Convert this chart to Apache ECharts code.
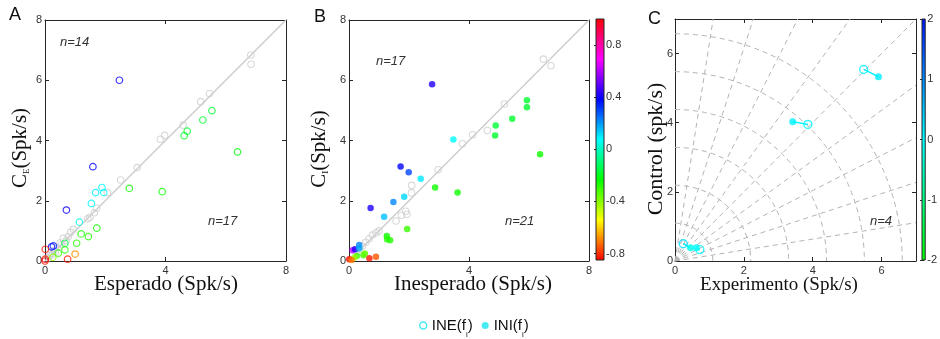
<!DOCTYPE html>
<html><head><meta charset="utf-8">
<script src="https://cdn.jsdelivr.net/npm/echarts@6/dist/echarts.min.js"></script>
<style>html,body{margin:0;padding:0;background:#fff}#c{width:940px;height:339px}</style>
</head><body><div id="c"></div>
<script>
// ---------- data ----------
const aGrayX = [6.83,6.84,5.46,5.17,4.59,3.97,3.83,3.06,2.51,2.07,1.71,1.64,1.49,1.42,0.94,0.85,0.77,0.61,0.70,0.55,0.50,0.40,0.30,0.20,0.15,0.10,0.35,0.25];
const aGrayY = [6.84,6.53,5.56,5.29,4.51,4.17,4.04,3.10,2.69,2.27,1.75,1.60,1.45,1.40,1.05,0.95,0.81,0.75,0.68,0.55,0.60,0.45,0.35,0.25,0.18,0.10,0.30,0.22];
const aColX = [2.47,1.59,0.71,0.22,0.28,1.89,1.68,1.95,1.54,1.14,4.62,4.72,5.24,5.54,6.39,2.80,3.89,1.72,1.20,1.44,1.05,0.66,0.66,0.44,0.26,1.00,0.75,0.01,0.01,0.00];
const aColY = [6.00,3.13,1.69,0.47,0.50,2.44,2.27,2.27,1.91,1.29,4.16,4.31,4.68,4.99,3.62,2.41,2.30,1.09,0.90,0.81,0.59,0.59,0.37,0.26,0.12,0.23,0.06,0.39,0.06,0.00];
const aColC = [0.40,0.38,0.40,0.38,0.35,0.08,0.10,0.08,0.08,0.05,-0.18,-0.18,-0.18,-0.17,-0.22,-0.25,-0.25,-0.26,-0.27,-0.27,-0.28,-0.15,-0.28,-0.30,-0.40,-0.68,-0.82,-0.82,-0.84,-0.84];

const bGrayX = [6.48,6.73,5.18,4.61,4.12,3.78,2.97,2.09,2.08,1.89,1.93,1.75,1.57,1.00,0.90,0.78,0.67,0.56,0.45,0.35,0.25];
const bGrayY = [6.70,6.48,5.21,4.33,4.19,3.89,3.03,2.51,2.26,1.65,1.55,1.52,1.33,1.00,0.94,0.86,0.74,0.62,0.50,0.40,0.30];
const bColX = [2.77,1.72,1.99,0.72,3.48,2.39,1.84,1.48,1.17,5.93,5.93,5.44,4.89,4.87,6.37,2.87,3.62,1.94,1.26,1.37,1.27,0.12,0.20,0.34,0.34,0.26,0.48,0.53,0.18,0.68,0.90,0.01,0.09];
const bColY = [5.87,3.14,2.95,1.76,4.03,2.73,2.13,1.96,1.47,5.34,5.10,4.72,4.50,4.17,3.54,2.44,2.27,1.06,0.83,0.69,0.72,0.36,0.39,0.53,0.42,0.17,0.19,0.25,0.12,0.09,0.14,0.06,0.03];
const bColC = [0.42,0.38,0.30,0.42,0.08,0.10,0.12,0.22,0.15,-0.18,-0.18,-0.18,-0.17,-0.18,-0.25,-0.25,-0.25,-0.30,-0.25,-0.27,-0.27,0.62,0.42,0.22,0.18,-0.30,-0.32,-0.35,-0.42,-0.82,-0.75,-0.84,-0.70];

const cIneX = [5.48,3.86,0.24,0.72];
const cIneY = [5.54,3.95,0.50,0.33];
const cIneC = [0.10,0.05,0.30,0.05];
const cIniX = [5.91,3.42,0.45,0.62];
const cIniY = [5.33,4.03,0.38,0.38];
const cIniC = [0.15,0.10,-0.10,-0.05];

const diag = [0, 8];
const cbBRange = [-0.85, 1.0];
const cbBTicks = [-0.8, -0.4, 0, 0.4, 0.8];
const cbCRange = [-2, 2];
const polarRadii = [1.1, 2.2, 3.3, 4.4, 5.5, 6.6];
const polarAngles = [9, 18, 27, 36, 45, 54, 63, 72, 81];

// ---------- colours ----------
function hsvRgb(h) {
  h = ((h % 360) + 360) % 360;
  const i = Math.floor(h / 60), f = h / 60 - i, q = 1 - f;
  const m = [[1,f,0],[q,1,0],[0,1,f],[0,q,1],[f,0,1],[1,0,q]][i];
  return 'rgb(' + m.map(v => Math.round(v * 255)).join(',') + ')';
}
function colB(v) { return hsvRgb((v - cbBRange[0]) / (cbBRange[1] - cbBRange[0]) * 360); }
function colC(v) {
  const t = (v - cbCRange[0]) / (cbCRange[1] - cbCRange[0]);
  let g, b;
  if (t < 0.5) { g = 255; b = 255 * t * 2; } else { g = 255 * (1 - (t - 0.5) * 1.85); b = 255; }
  return 'rgb(0,' + Math.round(g) + ',' + Math.round(b) + ')';
}

// ---------- helpers ----------
const AX = '#262626';
const labelStyle = { fontSize: 11, color: '#333', fontFamily: 'Liberation Sans' };
function mainAxis(grid, pos, min, max, interval, showLabel, extra) {
  const isY = pos === 'left' || pos === 'right';
  return Object.assign({
    type: 'value', gridIndex: grid, position: pos, min: min, max: max, interval: interval,
    axisLine: { show: true, onZero: false, lineStyle: { color: AX, width: 1 } },
    axisTick: { show: true, inside: true, length: 4, lineStyle: { color: AX } },
    axisLabel: Object.assign({ show: showLabel, margin: isY ? 3 : 4 }, labelStyle),
    splitLine: { show: false }
  }, extra || {});
}
const serifTxt = { fontFamily: 'Liberation Serif', fontSize: 21, fill: '#111', align: 'center', verticalAlign: 'middle' };
const richName = {
  a: { fontFamily: 'Liberation Serif', fontSize: 21, fill: '#111' },
  s: { fontFamily: 'Liberation Serif', fontSize: 9, fill: '#111', padding: [14, 0, 0, 0] }
};
function pts(xs, ys) { return xs.map((x, i) => [x, ys[i]]); }

const chart = echarts.init(document.getElementById('c'), null, { renderer: 'canvas' });

function gradRect(grid, xi, yi, range, colorFn) {
  const stops = [];
  for (let k = 0; k <= 48; k++) {
    const o = k / 48;
    stops.push({ offset: o, color: colorFn(range[1] - o * (range[1] - range[0])) });
  }
  return {
    type: 'custom', xAxisIndex: xi, yAxisIndex: yi, silent: true,
    data: [[0, range[0], 1, range[1]]],
    encode: { x: [0, 2], y: [1, 3] },
    renderItem: function (params, api) {
      const p1 = api.coord([api.value(0), api.value(1)]);
      const p2 = api.coord([api.value(2), api.value(3)]);
      return {
        type: 'rect', z2: 1,
        shape: { x: p1[0], y: p2[1], width: p2[0] - p1[0], height: p1[1] - p2[1] },
        style: { fill: { type: 'linear', x: 0, y: 0, x2: 0, y2: 1, colorStops: stops }, stroke: AX, lineWidth: 1 }
      };
    }
  };
}

const noMaxX = Object.assign({ show: true, margin: 4, showMaxLabel: false }, labelStyle);
const noMaxY = Object.assign({ show: true, margin: 2, showMaxLabel: false }, labelStyle);

function title(text, x, y, extra) {
  return { type: 'text', x: x, y: y, z: 10, style: Object.assign({ text: text }, serifTxt, extra || {}) };
}
function yTitle(text, x, y, extra) {
  return { type: 'text', x: x, y: y, rotation: Math.PI / 2, z: 10,
    style: Object.assign({ text: text, rich: richName }, serifTxt, extra || {}) };
}

const option = {
  animation: false,
  backgroundColor: '#fff',
  grid: [
    { left: 45, top: 20, width: 241, height: 241 },
    { left: 349, top: 20, width: 240, height: 241 },
    { left: 596, top: 19, width: 8, height: 241 },
    { left: 675, top: 19, width: 241, height: 242 },
    { left: 922, top: 19, width: 8, height: 241 }
  ],
  xAxis: [
    mainAxis(0, 'bottom', 0, 8, 4, true),
    mainAxis(0, 'top', 0, 8, 4, false),
    mainAxis(1, 'bottom', 0, 8, 4, true),
    mainAxis(1, 'top', 0, 8, 4, false),
    { type: 'value', gridIndex: 2, min: 0, max: 1, show: false },
    mainAxis(3, 'bottom', 0, 7, 2, true, { axisLabel: noMaxX }),
    mainAxis(3, 'top', 0, 7, 2, false),
    { type: 'value', gridIndex: 4, min: 0, max: 1, show: false }
  ],
  yAxis: [
    mainAxis(0, 'left', 0, 8, 2, true),
    mainAxis(0, 'right', 0, 8, 2, false),
    mainAxis(1, 'left', 0, 8, 2, true),
    mainAxis(1, 'right', 0, 8, 2, false),
    { type: 'value', gridIndex: 2, position: 'right', min: cbBRange[0], max: cbBRange[1],
      axisLine: { show: false },
      axisTick: { show: true, inside: true, length: 2, customValues: cbBTicks, lineStyle: { color: AX } },
      axisLabel: Object.assign({ show: true, margin: 2, customValues: cbBTicks, formatter: v => String(Math.round(v * 10) / 10) }, labelStyle),
      splitLine: { show: false } },
    { type: 'value', gridIndex: 2, position: 'left', min: cbBRange[0], max: cbBRange[1],
      axisLine: { show: false },
      axisTick: { show: true, inside: true, length: 2, customValues: cbBTicks, lineStyle: { color: AX } },
      axisLabel: { show: false }, splitLine: { show: false } },
    mainAxis(3, 'left', 0, 7, 2, true, { axisLabel: noMaxY }),
    mainAxis(3, 'right', 0, 7, 2, false),
    { type: 'value', gridIndex: 4, position: 'right', min: -2, max: 2, interval: 1,
      axisLine: { show: false },
      axisTick: { show: true, inside: true, length: 2, lineStyle: { color: AX } },
      axisLabel: Object.assign({ show: true, margin: 2 }, labelStyle), splitLine: { show: false } },
    { type: 'value', gridIndex: 4, position: 'left', min: -2, max: 2, interval: 1,
      axisLine: { show: false },
      axisTick: { show: true, inside: true, length: 2, lineStyle: { color: AX } },
      axisLabel: { show: false }, splitLine: { show: false } }
  ],
  legend: {
    left: 414, top: 313, itemGap: 9, itemWidth: 7, itemHeight: 7,
    data: [
      { name: 'INE', icon: 'circle', itemStyle: { color: '#fff', borderColor: '#19e6f0', borderWidth: 1.5 } },
      { name: 'INI', icon: 'circle', itemStyle: { color: '#19e6f0', borderWidth: 0 } }
    ],
    formatter: n => '{a|' + n + '(f}{s|i}{a|)}',
    textStyle: { rich: {
      a: { fontFamily: 'Liberation Sans', fontSize: 15, color: '#111', lineHeight: 18 },
      s: { fontFamily: 'Liberation Sans', fontSize: 8, color: '#111', lineHeight: 26, verticalAlign: 'bottom' }
    } }
  },
  graphic: [
    title('Esperado (Spk/s)', 166, 284),
    title('Inesperado (Spk/s)', 473, 284),
    title('Experimento (Spk/s)', 779, 285, { fontSize: 19 }),
    yTitle('{a|C}{s|E}{a|(Spk/s)}', 20, 148),
    yTitle('{a|C}{s|I}{a|(Spk/s)}', 319, 149),
    yTitle('Control (spk/s)', 656, 149, { fontSize: 22, rich: null }),
    { type: 'text', left: 9, top: 6, style: { text: 'A', fontSize: 18, fontFamily: 'Liberation Sans', fill: '#111' } },
    { type: 'text', left: 314, top: 8, style: { text: 'B', fontSize: 18, fontFamily: 'Liberation Sans', fill: '#111' } },
    { type: 'text', left: 648, top: 10, style: { text: 'C', fontSize: 18, fontFamily: 'Liberation Sans', fill: '#111' } },
    { type: 'text', left: 60, top: 36, style: { text: 'n=14', fontSize: 13, fontStyle: 'italic', fontFamily: 'Liberation Sans', fill: '#333' } },
    { type: 'text', left: 208, top: 215, style: { text: 'n=17', fontSize: 13, fontStyle: 'italic', fontFamily: 'Liberation Sans', fill: '#333' } },
    { type: 'text', left: 376, top: 55, style: { text: 'n=17', fontSize: 13, fontStyle: 'italic', fontFamily: 'Liberation Sans', fill: '#333' } },
    { type: 'text', left: 505, top: 215, style: { text: 'n=21', fontSize: 13, fontStyle: 'italic', fontFamily: 'Liberation Sans', fill: '#333' } },
    { type: 'text', left: 870, top: 215, style: { text: 'n=4', fontSize: 13, fontStyle: 'italic', fontFamily: 'Liberation Sans', fill: '#333' } }
  ],
  series: [
    // Panel A
    { type: 'line', xAxisIndex: 0, yAxisIndex: 0, data: pts(diag, diag), symbol: 'none', silent: true,
      lineStyle: { color: '#c9c9c9', width: 1.2 }, z: 1 },
    { type: 'scatter', xAxisIndex: 0, yAxisIndex: 0, data: pts(aGrayX, aGrayY), symbol: 'circle', symbolSize: 6.5,
      itemStyle: { color: 'rgba(255,255,255,0)', borderColor: '#cfcfcf', borderWidth: 1.1 }, z: 2 },
    { type: 'scatter', xAxisIndex: 0, yAxisIndex: 0, symbol: 'circle', symbolSize: 6.5, z: 3,
      data: aColX.map((x, i) => ({ value: [x, aColY[i]], itemStyle: { color: 'rgba(255,255,255,0)', borderColor: colB(aColC[i]), borderWidth: 1.2 } })) },
    // Panel B
    { type: 'line', xAxisIndex: 2, yAxisIndex: 2, data: pts(diag, diag), symbol: 'none', silent: true,
      lineStyle: { color: '#c9c9c9', width: 1.2 }, z: 1 },
    { type: 'scatter', xAxisIndex: 2, yAxisIndex: 2, data: pts(bGrayX, bGrayY), symbol: 'circle', symbolSize: 6.5,
      itemStyle: { color: 'rgba(255,255,255,0)', borderColor: '#cfcfcf', borderWidth: 1.1 }, z: 2 },
    { type: 'scatter', xAxisIndex: 2, yAxisIndex: 2, symbol: 'circle', symbolSize: 6.5, z: 3,
      data: bColX.map((x, i) => ({ value: [x, bColY[i]], itemStyle: { color: colB(bColC[i]) } })) },
    gradRect(2, 4, 4, cbBRange, colB),
    // Panel C polar grid
    { type: 'custom', xAxisIndex: 5, yAxisIndex: 6, silent: true, z: 1,
      data: polarRadii.map(r => [r, 0]),
      renderItem: function (params, api) {
        const o = api.coord([0, 0]);
        const r = api.size([api.value(0), 0])[0];
        return { type: 'arc', shape: { cx: o[0], cy: o[1], r: r, startAngle: -Math.PI / 2, endAngle: 0, clockwise: true },
          style: { fill: null, stroke: '#b4b4b4', lineWidth: 1, lineDash: [5, 4] } };
      } },
    { type: 'custom', xAxisIndex: 5, yAxisIndex: 6, silent: true, z: 1,
      data: polarAngles.map(a => [a, 0]),
      renderItem: function (params, api) {
        const a = api.value(0) * Math.PI / 180;
        const L = 7 / Math.max(Math.cos(a), Math.sin(a));
        const o = api.coord([0, 0]);
        const e = api.coord([L * Math.cos(a), L * Math.sin(a)]);
        return { type: 'line', shape: { x1: o[0], y1: o[1], x2: e[0], y2: e[1] },
          style: { stroke: '#b4b4b4', lineWidth: 1, lineDash: [5, 4] } };
      } },
    // Panel C pairs
    { type: 'lines', coordinateSystem: 'cartesian2d', xAxisIndex: 5, yAxisIndex: 6, silent: true, z: 3,
      data: cIneX.map((x, i) => ({ coords: [[x, cIneY[i]], [cIniX[i], cIniY[i]]], lineStyle: { color: colC((cIneC[i] + cIniC[i]) / 2), width: 1.4, opacity: 1 } })) },
    { name: 'INE', type: 'scatter', xAxisIndex: 5, yAxisIndex: 6, symbol: 'circle', symbolSize: 8, z: 4,
      itemStyle: { color: 'rgba(255,255,255,0)', borderColor: '#19e6f0', borderWidth: 1.4 },
      data: cIneX.map((x, i) => ({ value: [x, cIneY[i]], itemStyle: { color: 'rgba(255,255,255,0)', borderColor: colC(cIneC[i]), borderWidth: 1.4 } })) },
    { name: 'INI', type: 'scatter', xAxisIndex: 5, yAxisIndex: 6, symbol: 'circle', symbolSize: 7, z: 4,
      itemStyle: { color: '#19e6f0' },
      data: cIniX.map((x, i) => ({ value: [x, cIniY[i]], itemStyle: { color: colC(cIniC[i]) } })) },
    gradRect(4, 7, 8, cbCRange, colC)
  ]
};
chart.setOption(option);
</script></body></html>
